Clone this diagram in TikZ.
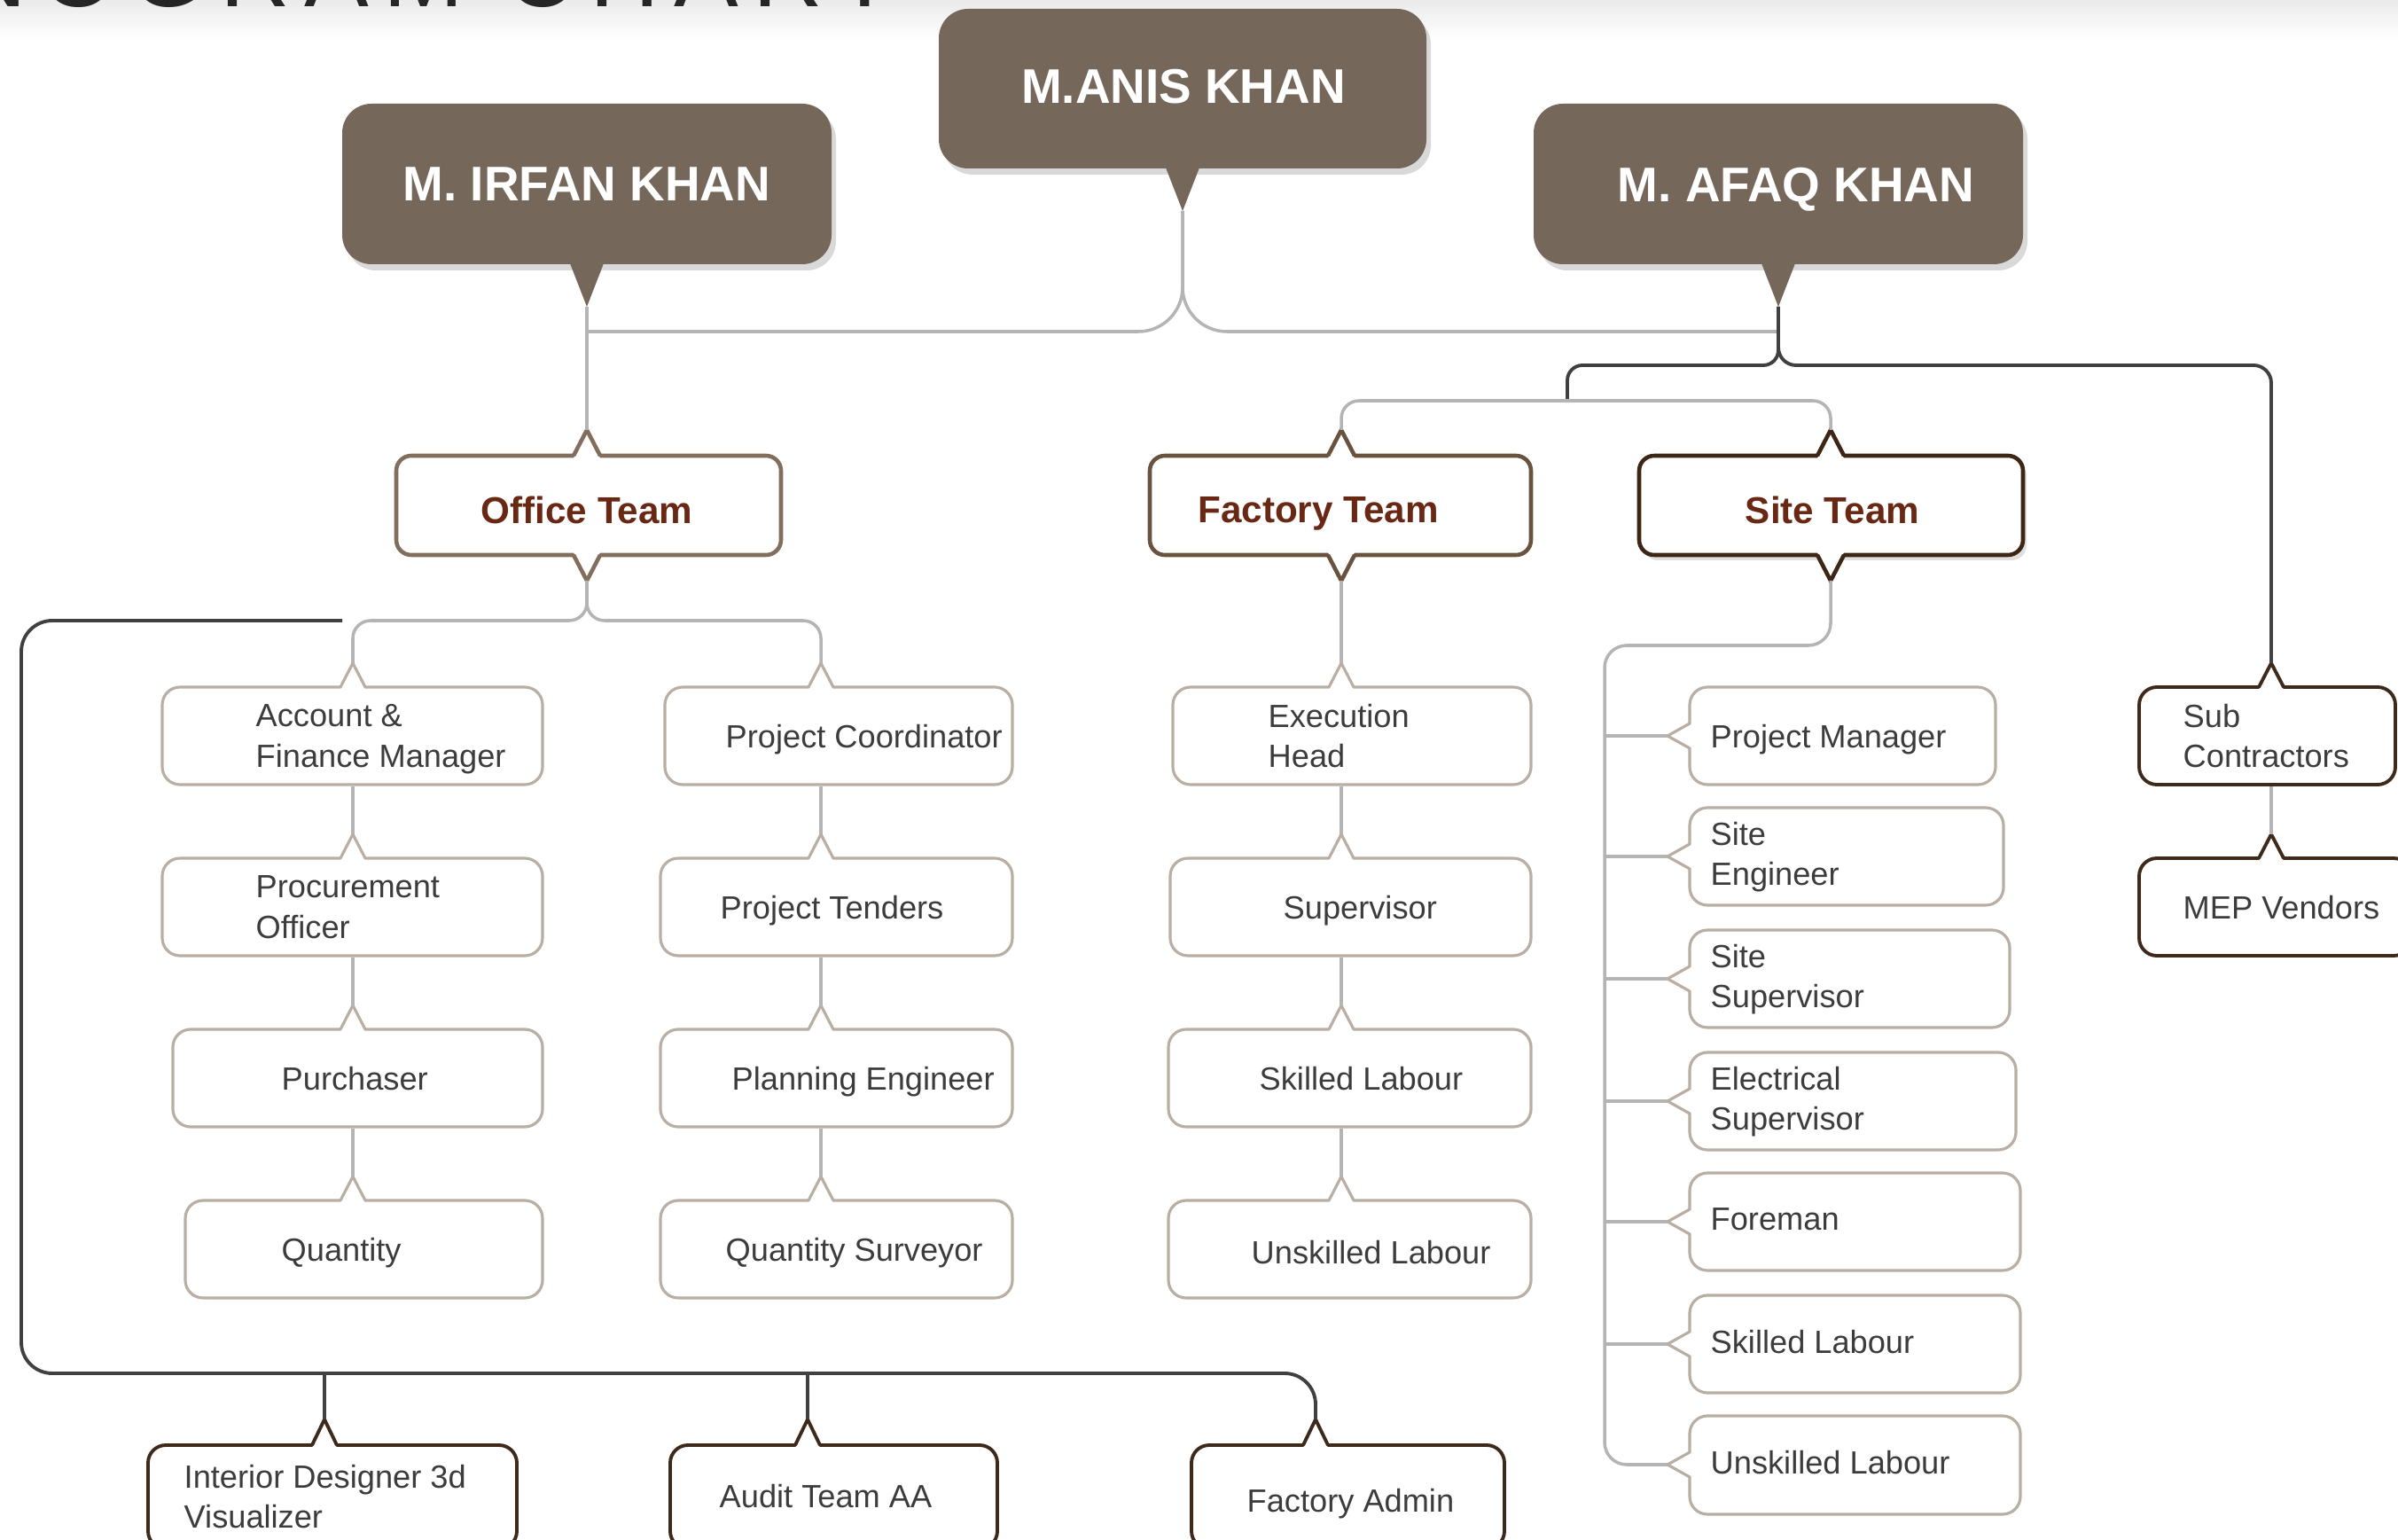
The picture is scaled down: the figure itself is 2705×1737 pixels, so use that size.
\documentclass[tikz,border=0pt]{standalone}
\usepackage{fontspec}
\setmainfont{Liberation Sans}
\newfontfamily\titlefont[LetterSpace=15]{Liberation Sans}
\usetikzlibrary{shadows,fit}
\definecolor{topbrown}{RGB}{117,103,90}
\definecolor{officeb}{RGB}{130,110,92}
\definecolor{factoryb}{RGB}{105,82,62}
\definecolor{siteb}{RGB}{62,38,22}
\definecolor{teamred}{RGB}{104,40,20}
\definecolor{leafb}{RGB}{184,174,163}
\definecolor{darkb}{RGB}{62,42,26}
\definecolor{lgray}{RGB}{180,180,180}
\definecolor{dgray}{RGB}{64,64,64}
\definecolor{ltext}{RGB}{60,60,60}

\newcommand\ptrup[6]{%
  \fill[white] (#1-#3,#2+3) -- (#1,#2-#4) -- (#1+#3,#2+3) -- cycle;
  \draw[#5] (#1-#3,#2) -- (#1,#2-#4) -- (#1+#3,#2);
  \coordinate (#6) at (#1,#2-#4);}
\newcommand\ptrdown[6]{%
  \fill[white] (#1-#3,#2-3) -- (#1,#2+#4) -- (#1+#3,#2-3) -- cycle;
  \draw[#5] (#1-#3,#2) -- (#1,#2+#4) -- (#1+#3,#2);
  \coordinate (#6) at (#1,#2+#4);}
\newcommand\ptrleft[6]{%
  \fill[white] (#1+3,#2-#3) -- (#1-#4,#2) -- (#1+3,#2+#3) -- cycle;
  \draw[#5] (#1,#2-#3) -- (#1-#4,#2) -- (#1,#2+#3);
  \coordinate (#6) at (#1-#4,#2);}
\newcommand\ptrtop[3]{%
  \fill[topbrown] (#1-21,#2-6) -- (#1,#2+48) -- (#1+21,#2-6) -- cycle;
  \coordinate (#3) at (#1,#2+48);}

\tikzset{
  topbox/.style={fill=topbrown, rounded corners=0.33cm, inner sep=0pt,
    drop shadow={opacity=0.3, shadow xshift=0.05cm, shadow yshift=-0.07cm}},
  teambox/.style={fill=white, draw=#1, line width=1.3pt, rounded corners=0.17cm, inner sep=0pt},
  leafbox/.style={fill=white, draw=leafb, line width=0.9pt, rounded corners=0.2cm, inner sep=0pt},
  darkbox/.style={fill=white, draw=darkb, line width=1.1pt, rounded corners=0.2cm, inner sep=0pt},
  lp/.style={draw=leafb, line width=0.9pt},
  dp/.style={draw=darkb, line width=1.1pt},
  tp/.style={draw=#1, line width=1.3pt},
  gline/.style={draw=lgray, line width=1pt},
  dline/.style={draw=dgray, line width=1.1pt},
  toptxt/.style={text=white, font=\fontsize{15.6}{18}\selectfont\bfseries, inner sep=0pt, text depth=0pt},
  teamtxt/.style={text=teamred, font=\fontsize{12}{14}\selectfont\bfseries, inner sep=0pt, text depth=0pt},
  leaftxt/.style={text=ltext, font=\fontsize{10.3}{13}\selectfont, align=left, inner sep=0pt, text depth=0pt, anchor=west},
}

\begin{document}
\begin{tikzpicture}[x=0.01cm, y=-0.01cm]
\useasboundingbox (0,0) rectangle (2705,1737);
\shade[top color=black!8, bottom color=white] (0,0) rectangle (2705,45);
\node[anchor=base east, inner sep=0pt, text=black!85, font=\titlefont\fontsize{31}{31}\selectfont] (title) at (1010,8) {ORGANOGRAM CHART};

% ---------- connectors ----------
\coordinate (fsBar) at (1768,452);
\coordinate (dStart) at (386,700);

% ---------- top boxes ----------
\node[topbox, fit={(1059,10) (1609,190)}] (anis) {};
\ptrtop{1334}{190}{tAnis}
\node[toptxt] (anisl) at (1335,97) {M.ANIS KHAN};

\node[topbox, fit={(386,117) (938,298)}] (irfan) {};
\ptrtop{662}{298}{tIrfan}
\node[toptxt] (irfanl) at (662,208) {M. IRFAN KHAN};

\node[topbox, fit={(1730,117) (2282,298)}] (afaq) {};
\ptrtop{2006}{298}{tAfaq}
\node[toptxt] (afaql) at (2026,208) {M. AFAQ KHAN};

% ---------- team boxes ----------
\node[teambox=officeb, fit={(447,514) (881,626)}] (office) {};
\ptrup{662}{514}{15}{29}{tp=officeb}{tOffice}
\ptrdown{662}{626}{15}{29}{tp=officeb}{bOffice}
\node[teamtxt] (officel) at (662,575) {Office Team};

\node[teambox=factoryb, fit={(1297,514) (1727,626)}] (factory) {};
\ptrup{1513}{514}{15}{29}{tp=factoryb}{tFactory}
\ptrdown{1513}{626}{15}{29}{tp=factoryb}{bFactory}
\node[teamtxt] (factoryl) at (1487,575) {Factory Team};

\node[teambox=siteb, fit={(1849,514) (2282,626)},
  drop shadow={opacity=0.25, shadow xshift=0.04cm, shadow yshift=-0.06cm}] (site) {};
\ptrup{2065}{514}{15}{29}{tp=siteb}{tSite}
\ptrdown{2065}{626}{15}{29}{tp=siteb}{bSite}
\node[teamtxt] (sitel) at (2067,575) {Site Team};

% top connectors
\draw[gline, rounded corners=0.5cm] (tAnis) |- (tIrfan |- 0,374);
\draw[gline, rounded corners=0.5cm] (tAnis) |- (tAfaq |- 0,374);
\draw[gline] (tIrfan) -- (tOffice);
\draw[dline, rounded corners=0.17cm] (tAfaq) |- (fsBar |- 0,412) -- (fsBar);
\draw[gline, rounded corners=0.2cm] (tFactory) |- (fsBar) -| (tSite);

% ---------- office branches ----------
% column 1
\node[leafbox, fit={(183,775) (612,885)}] (acc) {};
\ptrup{398}{775}{14}{27}{lp}{tAcc}
\node[leaftxt] (accl) at (288,830) {Account \&\\Finance Manager};
\node[leafbox, fit={(183,968) (612,1078)}] (proc) {};
\ptrup{398}{968}{14}{27}{lp}{tProc}
\node[leaftxt] (procl) at (288,1023) {Procurement\\Officer};
\node[leafbox, fit={(195,1161) (612,1271)}] (purch) {};
\ptrup{398}{1161}{14}{27}{lp}{tPurch}
\node[leaftxt] (purchl) at (317,1216) {Purchaser};
\node[leafbox, fit={(209,1354) (612,1464)}] (qty) {};
\ptrup{398}{1354}{14}{27}{lp}{tQty}
\node[leaftxt] (qtyl) at (317,1409) {Quantity};
\draw[gline] (tAcc |- acc.south) -- (tProc);
\draw[gline] (tProc |- proc.south) -- (tPurch);
\draw[gline] (tPurch |- purch.south) -- (tQty);

% column 2
\node[leafbox, fit={(750,775) (1142,885)}] (pcoord) {};
\ptrup{926}{775}{14}{27}{lp}{tPcoord}
\node[leaftxt] (pcoordl) at (818,830) {Project Coordinator};
\node[leafbox, fit={(745,968) (1142,1078)}] (ptend) {};
\ptrup{926}{968}{14}{27}{lp}{tPtend}
\node[leaftxt] (ptendl) at (812,1023) {Project Tenders};
\node[leafbox, fit={(745,1161) (1142,1271)}] (plan) {};
\ptrup{926}{1161}{14}{27}{lp}{tPlan}
\node[leaftxt] (planl) at (825,1216) {Planning Engineer};
\node[leafbox, fit={(745,1354) (1142,1464)}] (qsurv) {};
\ptrup{926}{1354}{14}{27}{lp}{tQsurv}
\node[leaftxt] (qsurvl) at (818,1409) {Quantity Surveyor};
\draw[gline] (tPcoord |- pcoord.south) -- (tPtend);
\draw[gline] (tPtend |- ptend.south) -- (tPlan);
\draw[gline] (tPlan |- plan.south) -- (tQsurv);

\draw[gline, rounded corners=0.2cm] (bOffice) |- (tAcc |- 0,700) -- (tAcc);
\draw[gline, rounded corners=0.2cm] (bOffice) |- (tPcoord |- 0,700) -- (tPcoord);

% ---------- factory column ----------
\node[leafbox, fit={(1323,775) (1727,885)}] (exec) {};
\ptrup{1513}{775}{14}{27}{lp}{tExec}
\node[leaftxt] (execl) at (1430,830) {Execution\\Head};
\node[leafbox, fit={(1320,968) (1727,1078)}] (sup) {};
\ptrup{1513}{968}{14}{27}{lp}{tSup}
\node[leaftxt] (supl) at (1447,1023) {Supervisor};
\node[leafbox, fit={(1318,1161) (1727,1271)}] (fsk) {};
\ptrup{1513}{1161}{14}{27}{lp}{tFsk}
\node[leaftxt] (fskl) at (1420,1216) {Skilled Labour};
\node[leafbox, fit={(1318,1354) (1727,1464)}] (funsk) {};
\ptrup{1513}{1354}{14}{27}{lp}{tFunsk}
\node[leaftxt] (funskl) at (1411,1412) {Unskilled Labour};
\draw[gline] (bFactory) -- (tExec);
\draw[gline] (tExec |- exec.south) -- (tSup);
\draw[gline] (tSup |- sup.south) -- (tFsk);
\draw[gline] (tFsk |- fsk.south) -- (tFunsk);

% ---------- site column ----------
\node[leafbox, fit={(1906,775) (2251,885)}] (pm) {};
\ptrleft{1906}{830}{14}{25}{lp}{tPm}
\node[leaftxt] (pml) at (1929,830) {Project Manager};
\node[leafbox, fit={(1906,911) (2260,1021)}] (se) {};
\ptrleft{1906}{966}{14}{25}{lp}{tSe}
\node[leaftxt] (sel) at (1929,963) {Site\\Engineer};
\node[leafbox, fit={(1906,1049) (2267,1159)}] (ss) {};
\ptrleft{1906}{1104}{14}{25}{lp}{tSs}
\node[leaftxt] (ssl) at (1929,1101) {Site\\Supervisor};
\node[leafbox, fit={(1906,1187) (2274,1297)}] (es) {};
\ptrleft{1906}{1242}{14}{25}{lp}{tEs}
\node[leaftxt] (esl) at (1929,1239) {Electrical\\Supervisor};
\node[leafbox, fit={(1906,1323) (2279,1433)}] (fm) {};
\ptrleft{1906}{1378}{14}{25}{lp}{tFm}
\node[leaftxt] (fml) at (1929,1375) {Foreman};
\node[leafbox, fit={(1906,1461) (2279,1571)}] (ssk) {};
\ptrleft{1906}{1516}{14}{25}{lp}{tSsk}
\node[leaftxt] (sskl) at (1929,1513) {Skilled Labour};
\node[leafbox, fit={(1906,1597) (2279,1708)}] (sunsk) {};
\ptrleft{1906}{1652}{14}{25}{lp}{tSunsk}
\node[leaftxt] (sunskl) at (1929,1649) {Unskilled Labour};

\draw[gline, rounded corners=0.25cm] (bSite) |- (1810,728) -- (tSunsk -| 1810,0) -- (tSunsk);
\draw[gline] (tPm -| 1810,0) -- (tPm);
\draw[gline] (tSe -| 1810,0) -- (tSe);
\draw[gline] (tSs -| 1810,0) -- (tSs);
\draw[gline] (tEs -| 1810,0) -- (tEs);
\draw[gline] (tFm -| 1810,0) -- (tFm);
\draw[gline] (tSsk -| 1810,0) -- (tSsk);

% ---------- right column ----------
\node[darkbox, fit={(2413,775) (2702,885)}] (sub) {};
\ptrup{2562}{775}{14}{27}{dp}{tSub}
\node[leaftxt] (subl) at (2462,830) {Sub\\Contractors};
\node[darkbox, fit={(2413,968) (2720,1078)}] (mep) {};
\ptrup{2562}{968}{14}{27}{dp}{tMep}
\node[leaftxt] (mepl) at (2462,1023) {MEP Vendors};
\draw[gline] (tSub |- sub.south) -- (tMep);
\draw[dline, rounded corners=0.2cm] (tAfaq) |- (tSub |- 0,412) -- (tSub);

% ---------- bottom ----------
\node[darkbox, fit={(167,1630) (583,1747)}] (idv) {};
\ptrup{366}{1630}{14}{29}{dp}{tIdv}
\node[leaftxt] (idvl) at (207,1688) {Interior Designer 3d\\Visualizer};
\node[darkbox, fit={(756,1630) (1125,1747)}] (audit) {};
\ptrup{911}{1630}{14}{29}{dp}{tAudit}
\node[leaftxt] (auditl) at (811,1687) {Audit Team AA};
\node[darkbox, fit={(1344,1630) (1697,1747)}] (fadmin) {};
\ptrup{1484}{1630}{14}{29}{dp}{tFadmin}
\node[leaftxt] (fadminl) at (1406,1692) {Factory Admin};
\draw[dline, rounded corners=0.35cm] (dStart) -- (24,700) -- (24,1549) -| (tFadmin);
\draw[dline] (tIdv |- 0,1549) -- (tIdv);
\draw[dline] (tAudit |- 0,1549) -- (tAudit);
\end{tikzpicture}
\end{document}
